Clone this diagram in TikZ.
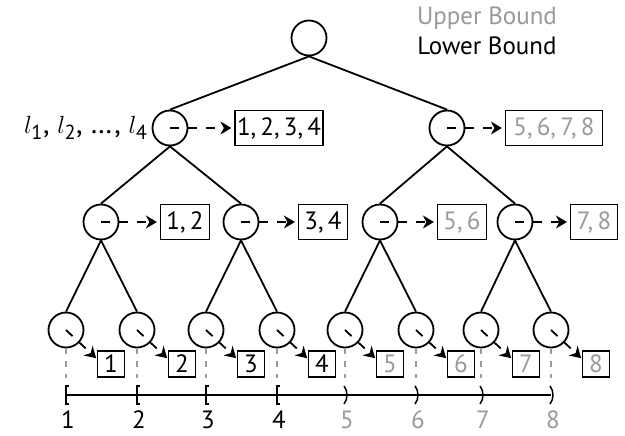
\documentclass[tikz,border=0pt]{standalone}
\usepackage{amsmath}
\usepackage{fontspec}
\setmainfont{PT Sans}
\usetikzlibrary{arrows.meta,positioning}
\definecolor{bound}{gray}{0.6}

\begin{document}
\begin{tikzpicture}[x=1pt,y=-1pt,line width=1.8pt,
        every node/.style={font=\fontsize{25}{30}\selectfont},
        knot/.style={circle,draw,minimum size=35pt,inner sep=0pt},
        rangebox/.style={draw,line width=1.2pt,minimum height=35pt,inner sep=0pt},
        leafbox/.style={draw,line width=1.2pt,minimum width=27pt,minimum height=26pt,inner sep=0pt},
        ptr/.style={dash pattern=on 9pt off 9pt,-{Stealth[length=11pt,width=13pt,inset=3.5pt]},shorten >=3pt},
        guide/.style={bound,line width=1.5pt,dash pattern=on 6pt off 7pt}]
        \useasboundingbox (0,0) rectangle (625,436);
        \node [text=bound] (ub) at (487,18) {Upper Bound};
        \node (lb) at (487,46) {Lower Bound};
        \node [knot] (r) at (309,38) {};
        \node [knot] (a) at (170,128) {};
        \node [knot] (b) at (447,128) {};
        \node [left=0pt of a, font=\fontsize{29}{34}\selectfont] (lab) {$l_{\text{1}}$, $l_{\text{2}}$, \dots, $l_{\text{4}}$};
        \node [knot] (a1) at (101,222) {};
        \node [knot] (a2) at (241,222) {};
        \node [knot] (b1) at (380,222) {};
        \node [knot] (b2) at (515,222) {};
        \node [rangebox, minimum width=88pt] (ra) at (279,128) {1,\,2,\,3,\,4};
        \node [rangebox, minimum width=97pt, text=bound] (rb) at (554,128) {5,\,6,\,7,\,8};
        \node [rangebox, minimum width=49pt] (ra1) at (185,222) {1,\,2};
        \node [rangebox, minimum width=49pt] (ra2) at (323,222) {3,\,4};
        \node [rangebox, minimum width=49pt, text=bound] (rb1) at (462,222) {5,\,6};
        \node [rangebox, minimum width=47pt, text=bound] (rb2) at (594,222) {7,\,8};
        \draw (r.south) -- (a.north) (r.south) -- (b.north)
            (a.south) -- (a1.north) (a.south) -- (a2.north) (b.south) -- (b1.north) (b.south) -- (b2.north);
        \draw [ptr] (a.center) -- (ra.west);
        \draw [ptr] (b.center) -- (rb.west);
        \draw [ptr] (a1.center) -- (ra1.west);
        \draw [ptr] (a2.center) -- (ra2.west);
        \draw [ptr] (b1.center) -- (rb1.west);
        \draw [ptr] (b2.center) -- (rb2.west);
        \foreach \i/\x/\p/\c in {1/66/a1/black,2/137/a1/black,3/206/a2/black,4/277/a2/black,5/345/b1/bound,6/416/b1/bound,7/481/b2/bound,8/551/b2/bound} {
            \node [knot] (v\i) at (\x,330) {};
            \draw (\p.south) -- (v\i.north);
            \node [leafbox, text=\c] (s\i) at (\x+45,364) {\i};
            \draw [ptr, shorten >=1pt] (v\i.center) -- (s\i.160);
            \draw [guide] (v\i.south) -- ++(0,30);
            \node [text=\c, anchor=base, inner sep=0pt] (n\i) at (\x+2,428) {\i};
        }
        \draw (66,395) -- (551,395);
        \foreach \x in {66,137,206,277}
            \draw [line width=1.5pt] (\x+3,386) -- (\x,386) -- (\x,404) -- (\x+3,404);
        \foreach \x in {345,416,481,551}
            \draw [line width=1.5pt] (\x-1,386) .. controls (\x+3,391) and (\x+3,399) .. (\x-1,404);
\end{tikzpicture}
\end{document}
